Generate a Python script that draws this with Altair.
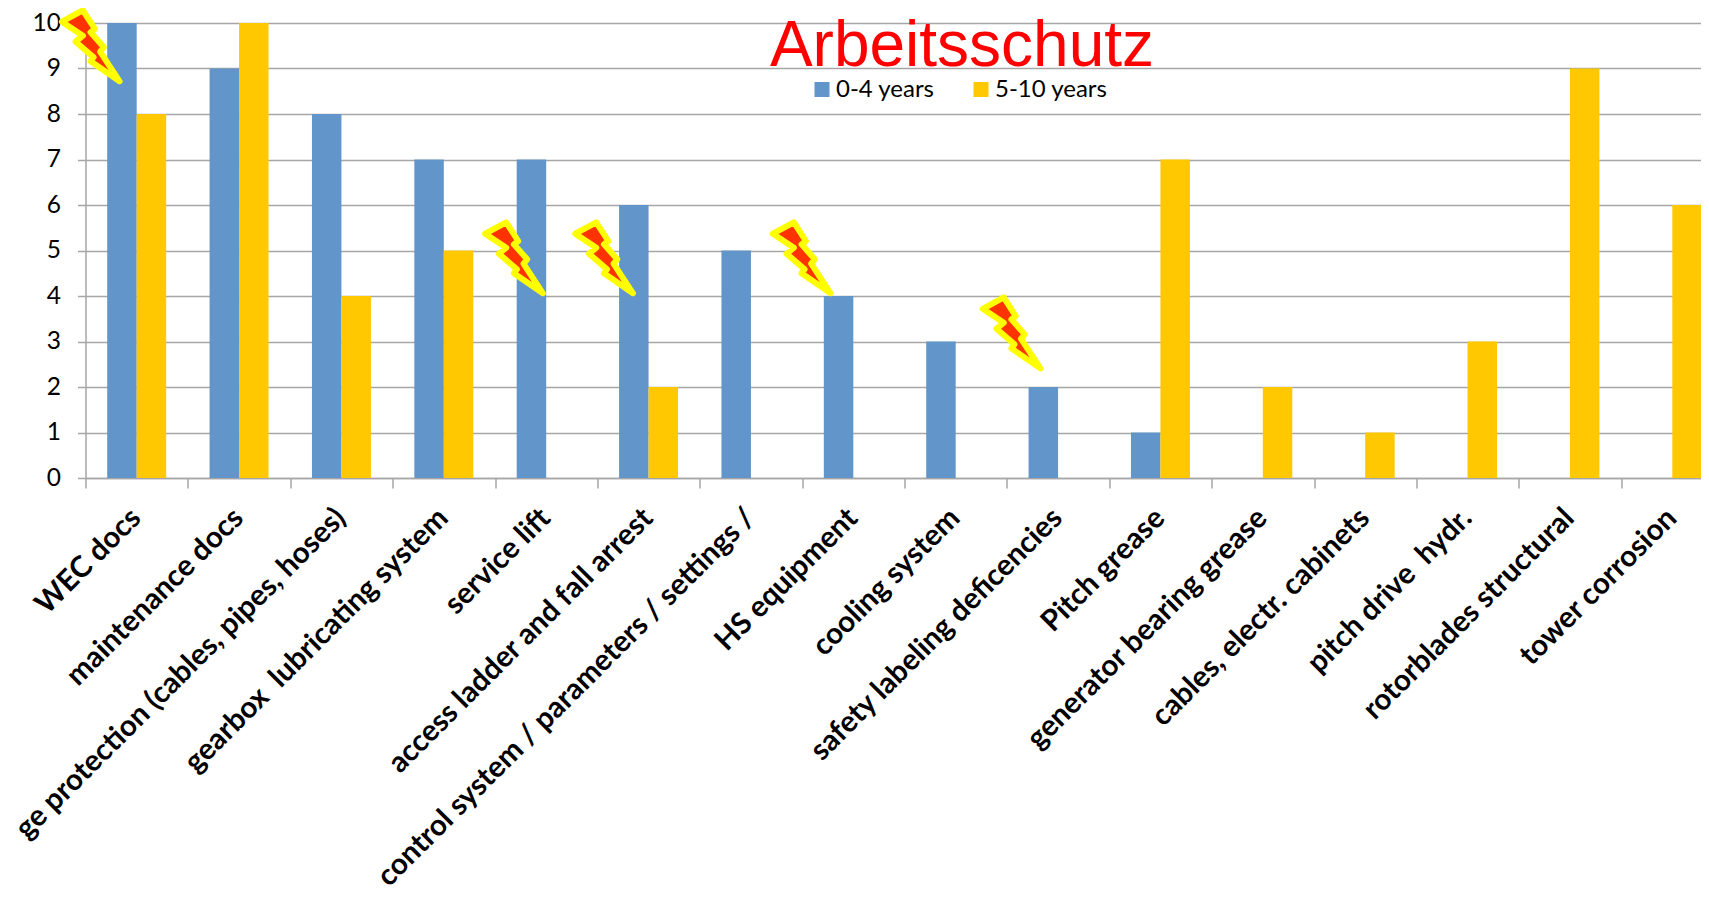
import altair as alt
import pandas as pd

categories = ["WEC docs", "maintenance docs", "ge protection (cables, pipes, hoses)",
              "gearbox\u00a0 lubricating system", "service lift", "access ladder and fall arrest",
              "control system / parameters / settings /", "HS equipment", "cooling system",
              "safety labeling deficencies", "Pitch grease", "generator bearing grease",
              "cables, electr. cabinets", "pitch drive\u00a0 hydr.", "rotorblades structural", "tower corrosion"]
young = [10, 9, 8, 7, 7, 6, 5, 4, 3, 2, 1, None, None, None, None, None]
old = [8, 10, 4, 5, None, 2, None, None, None, None, 7, 2, 1, 3, 9, 6]
series = ["0-4 years", "5-10 years"]
colors = ["#6295C9", "#FFC800"]
bolt_pos = [0.365, 4.5, 5.38, 7.31, 9.36]
bolt_val = [8.66, 4, 4, 4, 2.35]
chart_title = "Arbeitsschutz"
BOLT = ("M-61,-62.3L-40,-73.7L-28,-55L-32.3,-51.7L-19,-36.7L-22.7,-32.3L-3.3,-2.7"
        "L-32.3,-22.7L-29.3,-26.7L-47.3,-42.3L-40,-48.3Z")

rows = []
for c, a, b in zip(categories, young, old):
    if a is not None:
        rows.append({"cat": c, "s": series[0], "v": a})
    if b is not None:
        rows.append({"cat": c, "s": series[1], "v": b})
df = pd.DataFrame(rows)
bolts = pd.DataFrame({"p": bolt_pos, "v": bolt_val})

GRAY = "#A6A6A6"
FULL_W, W, H = 1638, 1615.5, 455

bars = alt.Chart(df).mark_bar().encode(
    x=alt.X("cat:N", sort=categories, title=None,
            scale=alt.Scale(paddingInner=0, paddingOuter=0, range=[0, FULL_W]),
            axis=alt.Axis(labelAngle=-45, labelAlign="right", labelBaseline="middle",
                          labelFont="Lato", labelFontWeight="bold", labelFontSize=29.5,
                          labelColor="#000", labelLimit=1000, labelOverlap=False, labelOffset=-1,
                          labelPadding=25, tickBand="extent", tickSize=10, tickWidth=1.5,
                          tickColor=GRAY, domainColor=GRAY, domainWidth=1.5, grid=False)),
    xOffset=alt.XOffset("s:N", sort=series, scale=alt.Scale(paddingOuter=0.736, paddingInner=0)),
    y=alt.Y("v:Q", title=None, scale=alt.Scale(domain=[0, 10], nice=False),
            axis=alt.Axis(values=list(range(11)), labelFont="Lato", labelFontSize=24.5,
                          labelColor="#000", labelPadding=17, tickSize=8, tickWidth=1.5,
                          tickColor=GRAY, domainColor=GRAY, domainWidth=1.5,
                          grid=True, gridColor=GRAY, gridWidth=1.5)),
    color=alt.Color("s:N", sort=series, scale=alt.Scale(domain=series, range=colors),
                    legend=alt.Legend(orient="none", legendX=724.5, legendY=54.5, direction="horizontal",
                                      title=None, symbolType="square", symbolSize=225,
                                      symbolStrokeWidth=0, labelFont="Lato", labelFontSize=24,
                                      labelColor="#000", columnPadding=34, labelOffset=2)),
)

bolt_layer = alt.Chart(bolts).mark_point(shape=BOLT, size=4, filled=True, fill="#FF3300",
                                         stroke="#FFFF00", strokeWidth=6, strokeJoin="round",
                                         opacity=1).encode(
    x=alt.X("p:Q", axis=None, scale=alt.Scale(domain=[0, 16], nice=False, zero=False,
                                              range=[0, FULL_W])),
    y=alt.Y("v:Q"),
)

title_layer = alt.Chart(pd.DataFrame({"t": [chart_title]})).mark_text(
    font="Liberation Sans", fontSize=64, color="#FF0000", align="center", baseline="alphabetic"
).encode(x=alt.value(876.5), y=alt.value(43), text="t:N")

chart = alt.layer(bars, bolt_layer, title_layer).resolve_scale(x="independent").properties(
    width=W, height=H,
    autosize=alt.AutoSizeParams(type="none"),
    padding={"left": 77.5, "top": 15, "right": 0, "bottom": 427},
).configure_view(stroke=None).configure_axis(domainCap="butt")

chart.save("out.html", embed_options={"renderer": "svg", "actions": False})
